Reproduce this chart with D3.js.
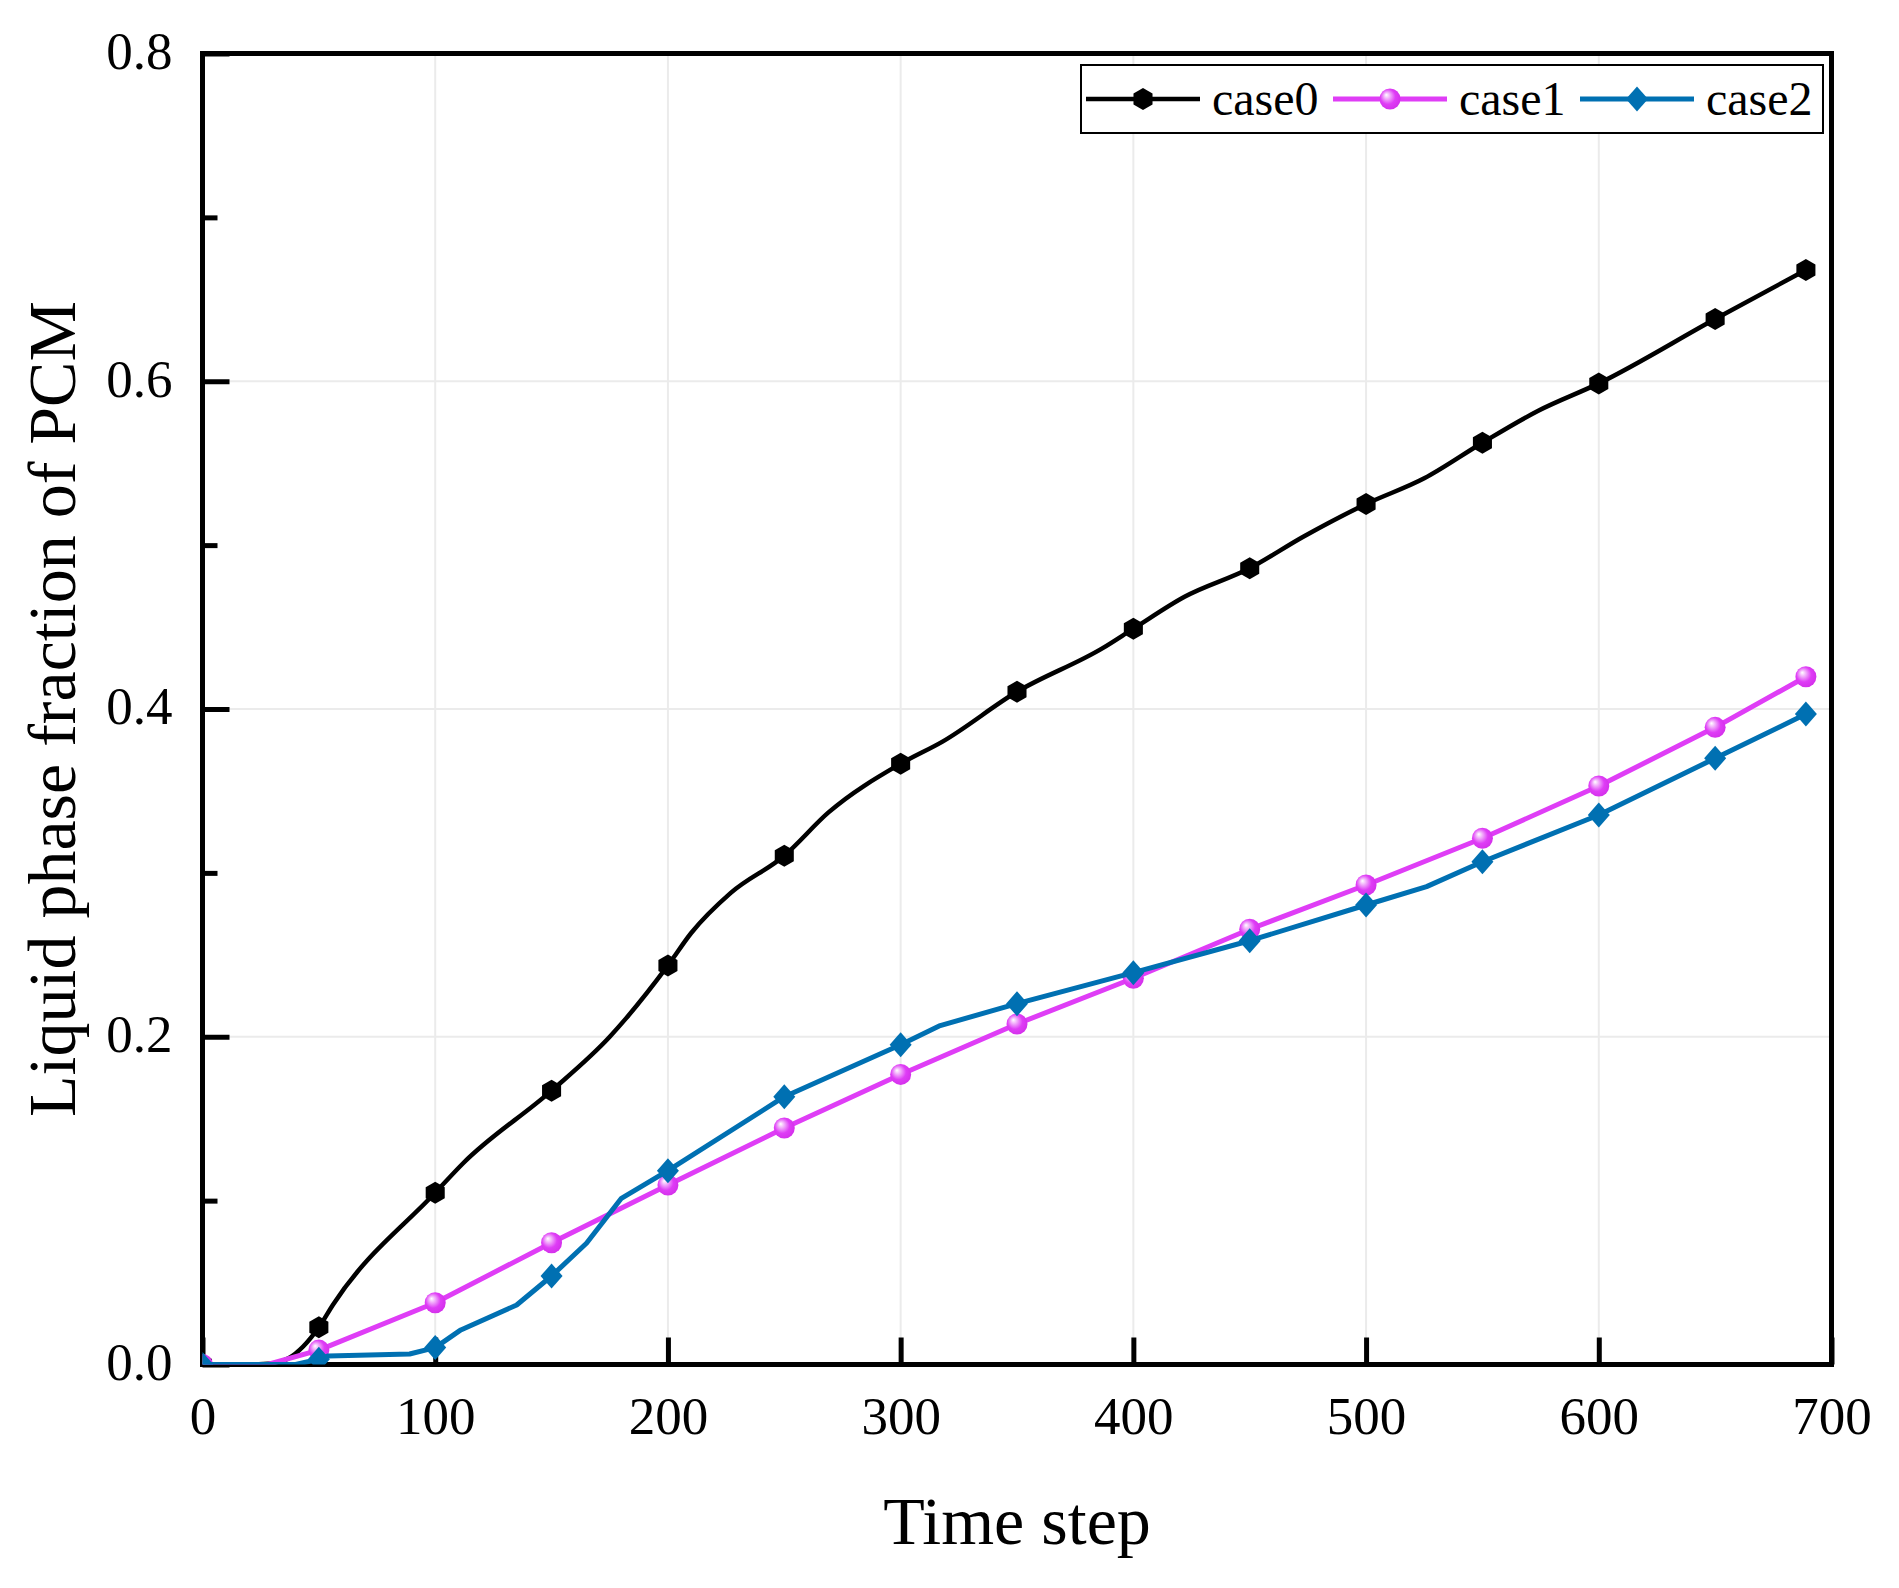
<!DOCTYPE html>
<html lang="en">
<head>
<meta charset="UTF-8">
<title>Liquid phase fraction of PCM</title>
<script src="https://d3js.org/d3.v7.min.js"></script>
<style>
  body { margin: 0; background: #fff; }
  svg { display: block; }
</style>
</head>
<body>
<div id="chart"></div>
<script>

// values
var seriesNames = ["case0", "case1", "case2"];

var case0X = [0, 20, 30, 37, 50, 56, 100, 112, 150, 175, 182, 200, 210, 227, 250, 269, 300, 318, 350, 387, 400, 422, 450, 473, 500, 525, 550, 574, 600, 650, 689];
var case0Y = [0, 0, 0.0006, 0.0038, 0.0227, 0.0363, 0.1048, 0.1228, 0.1671, 0.2000, 0.2112, 0.2435, 0.2633, 0.2878, 0.3105, 0.3369, 0.3666, 0.3801, 0.4105, 0.4373, 0.4490, 0.4685, 0.4859, 0.5051, 0.5251, 0.5408, 0.5625, 0.5820, 0.5987, 0.6380, 0.6679];

var case1X = [0, 28, 50, 100, 150, 200, 250, 300, 350, 400, 450, 500, 550, 600, 650, 689];
var case1Y = [0, 0, 0.0088, 0.0377, 0.0743, 0.1095, 0.1443, 0.1770, 0.2078, 0.2357, 0.2656, 0.2926, 0.3211, 0.3530, 0.3888, 0.4197];

var case2X = [0, 40, 50, 54, 89, 100, 111, 135, 150, 165, 180, 200, 250, 300, 317, 350, 400, 450, 500, 526, 550, 600, 650, 689];
var case2Y = [0, 0, 0.0032, 0.0052, 0.0064, 0.0103, 0.0211, 0.0363, 0.0540, 0.0740, 0.1014, 0.1183, 0.1634, 0.1951, 0.2068, 0.2202, 0.2391, 0.2586, 0.2804, 0.2916, 0.3068, 0.3353, 0.3699, 0.3969];

var xTicks = [0, 100, 200, 300, 400, 500, 600, 700];
var yTicks = [0, 0.2, 0.4, 0.6, 0.8];
var yMinorTicks = [0.1, 0.3, 0.5, 0.7];

var xTitle = "Time step";
var yTitle = "Liquid phase fraction of PCM";

var W = 1899, H = 1588;
var margin = {top: 53.5, right: 67.5, bottom: 223.5, left: 202.5};
var font = "'Liberation Serif', 'Times New Roman', serif";

var colors = ["#000000", "#DF3DF6", "#0070B2"];
var shapes = ["hexagon", "ball", "diamond"];
var widths = [4.5, 5, 5];

function zip(xs, ys) { return xs.map((d, i) => ({x: d, y: ys[i]})); }
var series = [
    {name: seriesNames[0], values: zip(case0X, case0Y), curve: d3.curveMonotoneX},
    {name: seriesNames[1], values: zip(case1X, case1Y), curve: d3.curveLinear},
    {name: seriesNames[2], values: zip(case2X, case2Y), curve: d3.curveLinear}
];

var x = d3.scaleLinear().domain([0, 700]).range([margin.left, W - margin.right]);
var y = d3.scaleLinear().domain([0, 0.8]).range([H - margin.bottom, margin.top]);

const svg = d3.select("#chart").append("svg")
    .attr("width", W)
    .attr("height", H)
    .style("font-family", font);

svg.append("rect").attr("width", W).attr("height", H).attr("fill", "#fff");

const defs = svg.append("defs");
defs.append("clipPath").attr("id", "plot-clip")
    .append("rect")
    .attr("x", x(0)).attr("y", y(0.8))
    .attr("width", x(700) - x(0)).attr("height", y(0) - y(0.8));

const grad = defs.append("radialGradient").attr("id", "ball")
    .attr("cx", "45%").attr("cy", "45%").attr("r", "60%")
    .attr("fx", "32%").attr("fy", "30%");
grad.append("stop").attr("offset", "0%").attr("stop-color", "#ffffff");
grad.append("stop").attr("offset", "22%").attr("stop-color", "#f3b8fb");
grad.append("stop").attr("offset", "60%").attr("stop-color", colors[1]);
grad.append("stop").attr("offset", "100%").attr("stop-color", "#d22ee9");

// grid
const grid = svg.append("g").attr("stroke", "#ebebeb").attr("stroke-width", 2);
grid.selectAll("line.gx").data(xTicks.slice(1, -1)).join("line")
    .attr("x1", d => x(d)).attr("x2", d => x(d))
    .attr("y1", y(0)).attr("y2", y(0.8));
grid.selectAll("line.gy").data(yTicks.slice(1, -1)).join("line")
    .attr("x1", x(0)).attr("x2", x(700))
    .attr("y1", d => y(d)).attr("y2", d => y(d));

// axes with inward ticks
const xAxis = svg.append("g")
    .attr("transform", `translate(0,${y(0)})`)
    .call(d3.axisBottom(x).tickValues(xTicks).tickSize(-27).tickSizeOuter(0).tickPadding(32).tickFormat(d3.format("d")));

const yAxis = svg.append("g")
    .attr("transform", `translate(${x(0)},0)`)
    .call(d3.axisLeft(y).tickValues(yTicks).tickSize(-27).tickSizeOuter(0).tickPadding(30).tickFormat(d3.format(".1f")));

const yMinor = svg.append("g")
    .attr("transform", `translate(${x(0)},0)`)
    .call(d3.axisLeft(y).tickValues(yMinorTicks).tickSize(-15).tickSizeOuter(0).tickFormat(""));

[xAxis, yAxis, yMinor].forEach(g => {
    g.select(".domain").remove();
    g.selectAll(".tick line").attr("stroke", "#000").attr("stroke-width", 5);
    g.selectAll(".tick text")
        .attr("fill", "#000")
        .style("font-family", font)
        .style("font-size", "53px");
});
yAxis.selectAll(".tick text").attr("dy", "0.28em");

// frame
svg.append("rect")
    .attr("x", x(0)).attr("y", y(0.8))
    .attr("width", x(700) - x(0)).attr("height", y(0) - y(0.8))
    .attr("fill", "none").attr("stroke", "#000").attr("stroke-width", 5);

function drawMarker(g, shape, color) {
    if (shape === "hexagon") {
        var r = 11;
        var pts = d3.range(6).map(i => {
            var a = Math.PI / 2 + i * Math.PI / 3;
            return [r * Math.cos(a), r * Math.sin(a)];
        });
        g.append("polygon").attr("points", pts.map(p => p.join(",")).join(" ")).attr("fill", color);
    } else if (shape === "ball") {
        g.append("circle").attr("r", 10.5).attr("fill", "url(#ball)");
    } else {
        g.append("polygon").attr("points", "0,-12.5 11,0 0,12.5 -11,0").attr("fill", color);
    }
}

const plot = svg.append("g").attr("clip-path", "url(#plot-clip)");

series.forEach((s, i) => {
    const line = d3.line().x(d => x(d.x)).y(d => y(d.y)).curve(s.curve);
    const g = plot.append("g");
    g.append("path")
        .datum(s.values)
        .attr("fill", "none")
        .attr("stroke", colors[i])
        .attr("stroke-width", widths[i])
        .attr("stroke-linejoin", "round")
        .attr("d", line);

    const last = s.values[s.values.length - 1];
    const marks = s.values.filter(d => d.x % 50 === 0 || d === last);
    g.selectAll("g.mk").data(marks).join("g")
        .attr("class", "mk")
        .attr("transform", d => `translate(${x(d.x)},${y(d.y)})`)
        .each(function () { drawMarker(d3.select(this), shapes[i], colors[i]); });
});

// legend
const legend = svg.append("g");
legend.append("rect")
    .attr("x", 1081).attr("y", 65)
    .attr("width", 1823 - 1081).attr("height", 68)
    .attr("fill", "#fff").attr("stroke", "#000").attr("stroke-width", 2);

series.forEach((s, i) => {
    const x0 = 1086 + i * 247;
    const item = legend.append("g");
    item.append("line")
        .attr("x1", x0).attr("x2", x0 + 114)
        .attr("y1", 99).attr("y2", 99)
        .attr("stroke", colors[i]).attr("stroke-width", widths[i]);
    drawMarker(item.append("g").attr("transform", `translate(${x0 + 57},99)`), shapes[i], colors[i]);
    item.append("text")
        .attr("x", x0 + 126).attr("y", 115)
        .style("font-size", "48px")
        .text(s.name);
});

// axis titles
svg.append("text")
    .attr("x", (x(0) + x(700)) / 2).attr("y", 1544)
    .attr("text-anchor", "middle")
    .style("font-size", "68px")
    .text(xTitle);

svg.append("text")
    .attr("transform", `translate(75,${(y(0) + y(0.8)) / 2}) rotate(-90)`)
    .attr("text-anchor", "middle")
    .style("font-size", "68px")
    .text(yTitle);

</script>
</body>
</html>
